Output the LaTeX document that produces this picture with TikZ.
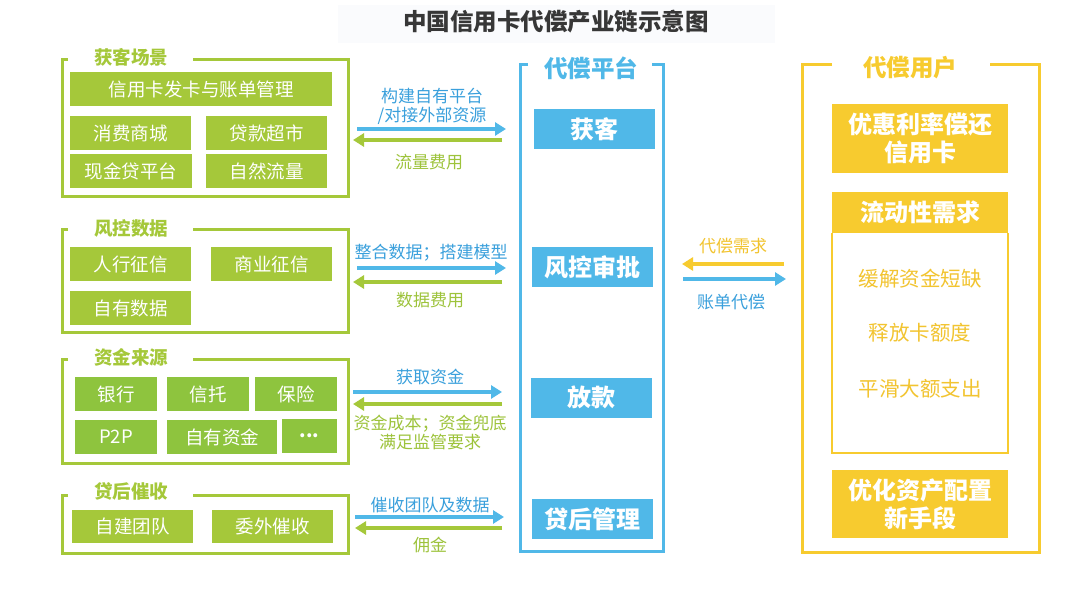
\documentclass[tikz,border=0pt]{standalone}
\usepackage{fontspec}
\setmainfont{Noto Sans CJK SC}
\usetikzlibrary{arrows.meta}
\definecolor{gr}{RGB}{165,200,58}
\definecolor{grd}{RGB}{142,196,62}
\definecolor{grt}{RGB}{157,195,59}
\definecolor{bl}{RGB}{80,184,232}
\definecolor{blt}{RGB}{58,160,220}
\definecolor{ye}{RGB}{247,203,47}
\definecolor{yet}{RGB}{242,196,48}
\definecolor{tt}{RGB}{55,55,55}
\definecolor{bg}{RGB}{250,251,253}
\tikzset{
  fs/.style={font=\fontsize{#1}{#1}\selectfont},
  gbox/.style={fill=gr, text=white, fs=18.5, inner sep=0pt, minimum height=34pt},
  gboxd/.style={gbox, fill=grd},
  bbox/.style={fill=bl, text=white, font=\fontsize{24}{24}\selectfont\bfseries, inner sep=0pt, minimum width=121pt, minimum height=40pt},
  ybox/.style={fill=ye, text=white, font=\fontsize{24}{28}\selectfont\bfseries, inner sep=0pt, minimum width=176pt, align=center},
  gtitle/.style={text=gr, font=\fontsize{18.5}{18.5}\selectfont\bfseries, inner sep=0pt},
  gframe/.style={draw=gr, line width=3pt},
  bframe/.style={draw=bl, line width=3pt},
  yframe/.style={draw=ye, line width=3pt},
  blabel/.style={text=blt, fs=17, align=center, inner sep=0pt},
  glabel/.style={text=grt, font=\fontsize{17}{19}\selectfont, align=center, inner sep=0pt},
  ylabel/.style={text=yet, fs=17, inner sep=0pt},
  yitem/.style={text=yet, fs=20.5, inner sep=0pt},
  barrow/.style={draw=bl, line width=4pt, -{Triangle[length=11pt,width=13pt]}},
  garrow/.style={draw=gr, line width=4pt, -{Triangle[length=11pt,width=13pt]}},
  yarrow/.style={draw=ye, line width=4pt, -{Triangle[length=11pt,width=13pt]}},
}
\begin{document}
\begin{tikzpicture}[x=1pt,y=-1pt]
\useasboundingbox (0,0) rectangle (1080,591);
\fill[white] (0,0) rectangle (1080,591);
% title
\fill[bg] (338,5) rectangle (775,43);
\node[text=tt, font=\fontsize{23.5}{23.5}\selectfont\bfseries, inner sep=0pt] (title) at (556,22) {中国信用卡代偿产业链示意图};

% ---------- left groups ----------
% group 1
\draw[gframe] (68,60) -- (62,60) -- (62,197) -- (348,197) -- (348,60) -- (193,60);
\node[gtitle] (t1) at (131,57) {获客场景};
\node[gbox, minimum width=262pt] (g1a) at (201,89) {信用卡发卡与账单管理};
\node[gbox, minimum width=121pt] (g1b) at (130.5,133) {消费商城};
\node[gbox, minimum width=121pt] (g1c) at (266.5,133) {贷款超市};
\node[gbox, minimum width=122pt] (g1d) at (131,171) {现金贷平台};
\node[gbox, minimum width=121pt] (g1e) at (266.5,171) {自然流量};
% group 2
\draw[gframe] (68,230) -- (62,230) -- (62,332) -- (348,332) -- (348,230) -- (193,230);
\node[gtitle] (t2) at (131,228) {风控数据};
\node[gbox, minimum width=121pt] (g2a) at (130.5,264) {人行征信};
\node[gbox, minimum width=121pt] (g2b) at (271.5,264) {商业征信};
\node[gbox, minimum width=121pt] (g2c) at (130.5,308) {自有数据};
% group 3
\draw[gframe] (68,359) -- (62,359) -- (62,463) -- (348,463) -- (348,359) -- (193,359);
\node[gtitle] (t3) at (131,357) {资金来源};
\node[gboxd, minimum width=82pt] (g3a) at (116,394) {银行};
\node[gboxd, minimum width=82pt] (g3b) at (208,394) {信托};
\node[gboxd, minimum width=82pt] (g3c) at (296,394) {保险};
\node[gboxd, minimum width=82pt] (g3d) at (116,437) {P2P};
\node[gboxd, minimum width=110pt] (g3e) at (222,437) {自有资金};
\node[gboxd, minimum width=55pt] (g3f) at (309.5,435.5) {\bfseries ...};
% group 4
\draw[gframe] (68,495) -- (62,495) -- (62,553) -- (348,553) -- (348,495) -- (193,495);
\node[gtitle] (t4) at (131,491) {贷后催收};
\node[gbox, minimum width=121pt, minimum height=33pt] (g4a) at (132.5,526.5) {自建团队};
\node[gbox, minimum width=121pt, minimum height=33pt] (g4b) at (272.5,526.5) {委外催收};

% ---------- middle platform ----------
\draw[bframe] (528,65) -- (520,65) -- (520,551) -- (663,551) -- (663,65) -- (652,65);
\node[text=bl, font=\fontsize{23.5}{23.5}\selectfont\bfseries, inner sep=0pt] (tm) at (591,68) {代偿平台};
\node[bbox] (m1) at (594,129) {获客};
\node[bbox] (m2) at (592.5,267) {风控审批};
\node[bbox] (m3) at (591.5,397.5) {放款};
\node[bbox] (m4) at (592.5,519) {贷后管理};

% ---------- arrows left <-> middle ----------
\coordinate (r1l) at (357,129); \coordinate (r1r) at (506,129);
\coordinate (r1gl) at (353,140); \coordinate (r1gr) at (502,140);
\draw[barrow] (r1l) -- (r1r);
\draw[garrow] (r1gr) -- (r1gl);
\node[blabel, font=\fontsize{17}{19}\selectfont] (l1a) at (432,106.5) {构建自有平台\\/对接外部资源};
\node[glabel] (l1b) at (429,162) {流量费用};

\coordinate (r2l) at (357,268); \coordinate (r2r) at (506,268);
\coordinate (r2gl) at (353,282); \coordinate (r2gr) at (502,282);
\draw[barrow] (r2l) -- (r2r);
\draw[garrow] (r2gr) -- (r2gl);
\node[blabel] (l2a) at (431,253) {整合数据；搭建模型};
\node[glabel] (l2b) at (430,300) {数据费用};

\coordinate (r3l) at (353,392); \coordinate (r3r) at (502,392);
\coordinate (r3gl) at (353,404); \coordinate (r3gr) at (502,404);
\draw[barrow] (r3l) -- (r3r);
\draw[garrow] (r3gr) -- (r3gl);
\node[blabel] (l3a) at (430,377) {获取资金};
\node[glabel] (l3b) at (430,432.5) {资金成本；资金兜底\\满足监管要求};

\coordinate (r4l) at (355,517); \coordinate (r4r) at (504,517);
\coordinate (r4gl) at (355,528); \coordinate (r4gr) at (502,528);
\draw[barrow] (r4l) -- (r4r);
\draw[garrow] (r4gr) -- (r4gl);
\node[blabel] (l4a) at (430,505) {催收团队及数据};
\node[glabel] (l4b) at (430,545) {佣金};

% ---------- arrows middle <-> right ----------
\coordinate (y1r) at (784,264); \coordinate (y1l) at (682,264);
\coordinate (b1l) at (683,279); \coordinate (b1r) at (786,279);
\draw[yarrow] (y1r) -- (y1l);
\draw[barrow] (b1l) -- (b1r);
\node[ylabel] (lr1) at (733,246) {代偿需求};
\node[blabel] (lr2) at (731,302) {账单代偿};

% ---------- right users ----------
\draw[yframe] (832,65) -- (802,65) -- (802,552) -- (1039,552) -- (1039,65) -- (990,65);
\node[text=ye, font=\fontsize{23.5}{23.5}\selectfont\bfseries, inner sep=0pt] (tr) at (910,68) {代偿用户};
\node[ybox, minimum height=69pt] (u1) at (920,138.5) {优惠利率偿还\\信用卡};
\draw[draw=ye, line width=1.5pt] (832,233) -- (832,453) -- (1008,453) -- (1008,233);
\node[ybox, minimum height=41pt] (u2) at (920,212.5) {流动性需求};
\node[yitem] (u2a) at (920,279) {缓解资金短缺};
\node[yitem] (u2b) at (920,333) {释放卡额度};
\node[yitem] (u2c) at (920,389) {平滑大额支出};
\node[ybox, minimum height=68pt] (u3) at (920,504) {优化资产配置\\新手段};
\end{tikzpicture}
\end{document}
